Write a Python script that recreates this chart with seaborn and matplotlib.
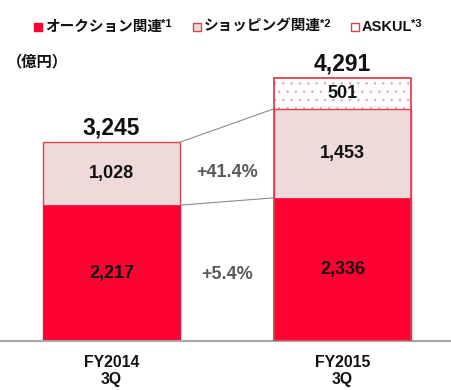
"""
Stacked bar chart: transaction value by segment, FY2014 3Q vs FY2015 3Q.
"""

import matplotlib
matplotlib.use("Agg")
import matplotlib.pyplot as plt
from matplotlib.patches import Rectangle
import pandas as pd
import seaborn as sns

# Data
periods = ["FY2014\n3Q", "FY2015\n3Q"]
auction = [2217, 2336]
shopping = [1028, 1453]
askul = [0, 501]
totals = [3245, 4291]
growth_labels = ["+41.4%", "+5.4%"]
legend_names = ["オークション関連", "ショッピング関連", "ASKUL"]
legend_marks = ["*1", "*2", "*3"]

RED = "#FF0033"
PINK = "#EFDADA"
EDGE = "#E0404C"

sns.set_theme(style="white")
plt.rcParams["font.family"] = ["Liberation Sans", "Noto Sans CJK JP", "DejaVu Sans"]
plt.rcParams["hatch.linewidth"] = 0.5

df = pd.DataFrame({"period": periods, "auction": auction,
                   "shopping": shopping, "askul": askul})
df["lvl2"] = df["auction"] + df["shopping"]
df["top"] = df["lvl2"] + df["askul"]

fig = plt.figure(figsize=(4.52, 3.90), dpi=100)
ax = fig.add_axes([0, 49 / 390, 1, 341 / 390])

bar_w = 0.593
# stacked by overlapping cumulative bars, top segment drawn first
sns.barplot(data=df[df["askul"] > 0], x="period", y="top", ax=ax,
            order=periods, color="white", edgecolor=EDGE, linewidth=1.2,
            hatch="..", width=bar_w, saturation=1)
sns.barplot(data=df, x="period", y="lvl2", ax=ax, order=periods,
            color=PINK, edgecolor=EDGE, linewidth=1.0, width=bar_w, saturation=1)
sns.barplot(data=df, x="period", y="auction", ax=ax, order=periods,
            color=RED, edgecolor=RED, linewidth=0.5, width=bar_w, saturation=1)

# hatch dots lighter than the border
for p in ax.patches[:1]:
    p.set_edgecolor("#F4A0A8")
    ax.add_patch(Rectangle(p.get_xy(), p.get_width(), p.get_height(),
                           fill=False, edgecolor=EDGE, linewidth=1.2, zorder=3))

ax.set_xlim(-0.483, 1.474)
ax.set_ylim(0, 5564)
ax.set_xlabel("")
ax.set_ylabel("")
ax.set_yticks([])
ax.set_xticks([])
for s in ["top", "left", "right"]:
    ax.spines[s].set_visible(False)
ax.spines["bottom"].set_color("#A6A6A6")
ax.spines["bottom"].set_linewidth(1.5)

# connector lines
half = bar_w / 2
ax.plot([half, 1 - half], [df["lvl2"][0], df["lvl2"][1]], color="#8C8C8C", lw=0.8)
ax.plot([half, 1 - half], [auction[0], auction[1]], color="#8C8C8C", lw=0.8)

# value labels
for i in range(2):
    ax.text(i, auction[i] / 2, f"{auction[i]:,}", ha="center", va="center",
            fontsize=13, fontweight="bold", color="#111111")
    ax.text(i, auction[i] + shopping[i] / 2, f"{shopping[i]:,}", ha="center",
            va="center", fontsize=13, fontweight="bold", color="#111111")
    if askul[i] > 0:
        ax.text(i, df["lvl2"][i] + askul[i] / 2, f"{askul[i]:,}", ha="center",
                va="center", fontsize=13, fontweight="bold", color="#111111")
    ax.text(i, df["top"][i] + 225, f"{totals[i]:,}", ha="center",
            va="center", fontsize=16.5, fontweight="bold", color="#111111")

ax.text(0.5, auction[0] + shopping[0] / 2 + 20, growth_labels[0], ha="center",
        va="center", fontsize=13, fontweight="bold", color="#595959")
ax.text(0.5, auction[0] / 2 - 20, growth_labels[1], ha="center",
        va="center", fontsize=13, fontweight="bold", color="#595959")

# category labels under the axis
for i, lab in enumerate(periods):
    xf = (i + 0.483) / 1.957
    fig.text(xf, 1 - 371 / 390, lab, ha="center", va="center", fontsize=11.3,
             fontweight="bold", color="#111111", linespacing=1.1)

fig.text(7 / 452, 1 - 62 / 390, "（億円）", ha="left", va="center",
         fontsize=11, fontweight="bold", color="#111111")

# legend drawn by hand
W, H = 452, 390
legend_x = [34, 193, 351]
face = [RED, PINK, "white"]
fig.canvas.draw()
renderer = fig.canvas.get_renderer()
for x0, name, mark, fc in zip(legend_x, legend_names, legend_marks, face):
    fig.patches.append(Rectangle((x0 / W, 1 - 31 / H), 8 / W, 8 / H,
                                 transform=fig.transFigure, facecolor=fc,
                                 edgecolor=RED if fc == RED else EDGE,
                                 linewidth=1.0, figure=fig))
    t = fig.text((x0 + 11) / W, 1 - 27 / H, name, ha="left", va="center",
                 fontsize=10.5, fontweight="bold", color="#111111")
    bb = t.get_window_extent(renderer)
    fig.text(bb.x1 / W - 1 / W, 1 - 24 / H, mark, ha="left", va="center",
             fontsize=8, fontweight="bold", color="#111111")

fig.savefig("out.png", dpi=100)
plt.close(fig)
